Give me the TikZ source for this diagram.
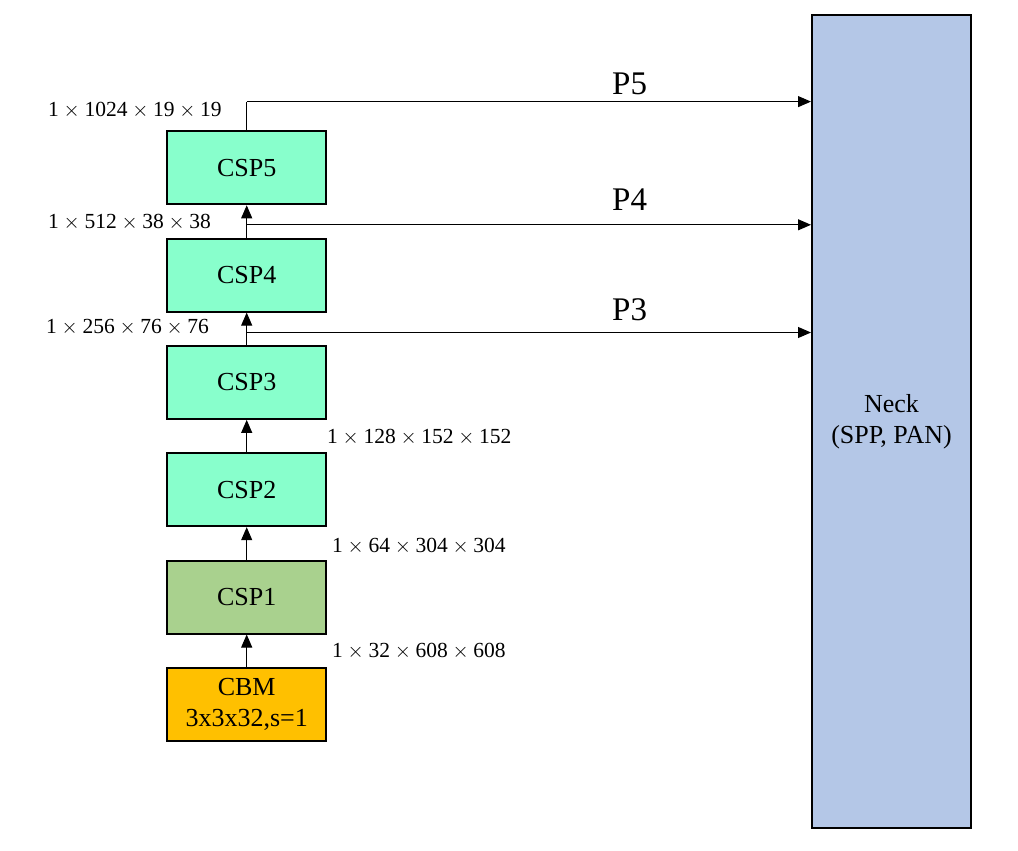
\documentclass[tikz,border=0pt]{standalone}
\usepackage{fontspec}
\setmainfont{Liberation Serif}
\usetikzlibrary{arrows.meta}
\definecolor{mint}{HTML}{88FFCC}
\definecolor{cspone}{HTML}{A9D18E}
\definecolor{cbmcol}{HTML}{FFC000}
\definecolor{neckcol}{HTML}{B4C7E7}
\newcommand{\tm}{\hspace{0.22em}$\times$\hspace{0.22em}}
\tikzset{
  blk/.style={draw=black, line width=2pt, minimum width=159pt, minimum height=73pt, inner sep=0pt, font=\fontsize{26}{31}\selectfont, align=center},
  arr/.style={line width=1pt, -{Triangle[length=13pt,width=11pt]}},
  dim/.style={anchor=west, inner sep=0pt, font=\fontsize{21.5}{24}\selectfont},
  plab/.style={anchor=west, inner sep=0pt, font=\fontsize{33}{38}\selectfont}
}
\begin{document}
\begin{tikzpicture}[x=1pt,y=-1pt]
\useasboundingbox (0,0) rectangle (1018,851);
\node[blk, fill=mint] (csp5) at (246.7,167.8) {CSP5};
\node[blk, fill=mint] (csp4) at (246.7,275.1) {CSP4};
\node[blk, fill=mint] (csp3) at (246.7,382.4) {CSP3};
\node[blk, fill=mint] (csp2) at (246.7,489.7) {CSP2};
\node[blk, fill=cspone] (csp1) at (246.7,597.0) {CSP1};
\node[blk, fill=cbmcol] (cbm) at (246.7,704.3) {CBM\\3x3x32,s=1};
\node[draw=black, line width=2pt, fill=neckcol, minimum width=159pt, minimum height=813pt, inner sep=0pt, font=\fontsize{26}{31}\selectfont, align=center] (neck) at (891.5,421.5) {Neck\\(SPP, PAN)};

\draw[arr] (cbm.north) -- (csp1.south);
\draw[arr] (csp1.north) -- (csp2.south);
\draw[arr] (csp2.north) -- (csp3.south);
\draw[arr] (csp3.north) -- (csp4.south);
\draw[arr] (csp4.north) -- (csp5.south);

\coordinate (j3) at (246.7,332.5);
\coordinate (j4) at (246.7,224.8);
\coordinate (t5) at (246.7,101.6);
\draw[arr] (j3) -- (j3 -| neck.west);
\draw[arr] (j4) -- (j4 -| neck.west);
\draw[line width=1pt] (csp5.north) -- (t5);
\draw[arr] (t5) -- (t5 -| neck.west);

\node[plab] (p5) at (612,83.5) {P5};
\node[plab] (p4) at (612,200) {P4};
\node[plab] (p3) at (612,310) {P3};

\node[dim] (d5) at (48,110) {1\tm1024\tm19\tm19};
\node[dim] (d4) at (48,222) {1\tm512\tm38\tm38};
\node[dim] (d3) at (46,327) {1\tm256\tm76\tm76};
\node[dim] (d2) at (327,437) {1\tm128\tm152\tm152};
\node[dim] (d1) at (332,546) {1\tm64\tm304\tm304};
\node[dim] (d0) at (332,651) {1\tm32\tm608\tm608};
\end{tikzpicture}
\end{document}
